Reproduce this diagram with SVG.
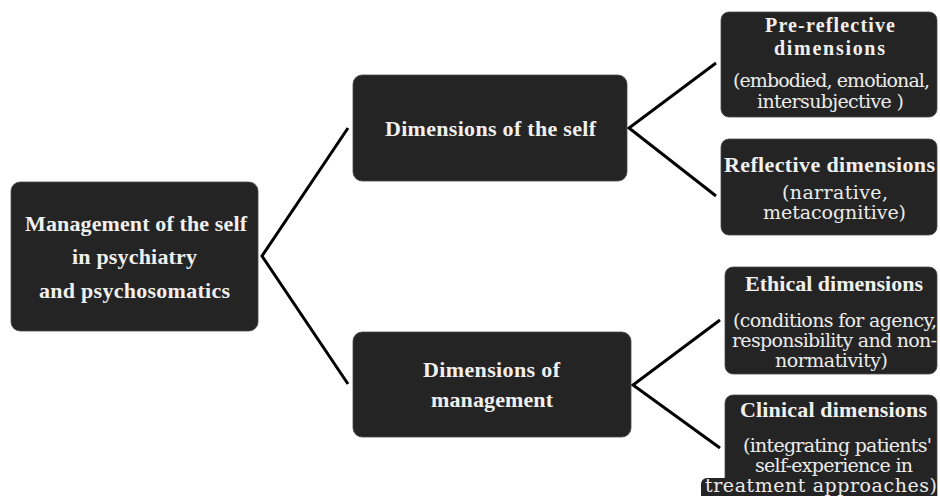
<svg xmlns="http://www.w3.org/2000/svg" width="940" height="496" viewBox="0 0 940 496">
<style>
.box{fill:#242424;stroke:#4a4a4a;stroke-width:0.8}
.b{font-family:"Liberation Serif","Times New Roman",serif;font-weight:bold;font-size:22px;fill:#f0f0f0;text-anchor:middle}
.bs{font-size:20px}
.r{font-family:"DejaVu Serif","Liberation Serif",serif;font-size:19px;fill:#ececec;text-anchor:middle}
.c{fill:none;stroke:#000;stroke-width:3;stroke-linejoin:miter}
</style>
<rect width="940" height="496" fill="#fff"/>
<g id="connectors">
<polyline class="c" points="348,128 262,256 348,384"/>
<polyline class="c" points="716,63 629,128 716,196"/>
<polyline class="c" points="720,320 633,385 720,448"/>
</g>
<g id="root">
<rect class="box" x="11" y="182" width="247" height="149" rx="9"/>
<text class="b" x="136" y="231" textLength="222" lengthAdjust="spacing">Management of the self</text>
<text class="b" x="134.5" y="264" textLength="125" lengthAdjust="spacing">in psychiatry</text>
<text class="b" x="134.5" y="298" textLength="191" lengthAdjust="spacing">and psychosomatics</text>
</g>
<g id="dim-self">
<rect class="box" x="353" y="75" width="274" height="106" rx="9"/>
<text class="b" x="490.5" y="136" textLength="211" lengthAdjust="spacing">Dimensions of the self</text>
</g>
<g id="dim-management">
<rect class="box" x="353" y="332" width="278" height="105" rx="9"/>
<text class="b" x="491.5" y="377" textLength="137" lengthAdjust="spacing">Dimensions of</text>
<text class="b" x="492" y="407" textLength="122" lengthAdjust="spacing">management</text>
</g>
<g id="pre-reflective">
<rect class="box" x="721" y="12" width="216" height="105" rx="8"/>
<text class="b bs" x="830" y="32" textLength="130" lengthAdjust="spacing">Pre-reflective</text>
<text class="b bs" x="829.5" y="55" textLength="111" lengthAdjust="spacing">dimensions</text>
<text class="r" x="831.5" y="87" textLength="197" lengthAdjust="spacing">(embodied, emotional,</text>
<text class="r" x="830.5" y="108" textLength="147" lengthAdjust="spacing">intersubjective )</text>
</g>
<g id="reflective">
<rect class="box" x="721" y="139" width="216" height="96" rx="8"/>
<text class="b" x="829.5" y="172" textLength="211" lengthAdjust="spacing">Reflective dimensions</text>
<text class="r" x="835" y="199" textLength="106" lengthAdjust="spacing">(narrative,</text>
<text class="r" x="834.5" y="219" textLength="143" lengthAdjust="spacing">metacognitive)</text>
</g>
<g id="ethical">
<rect class="box" x="725" y="267" width="212" height="107" rx="8"/>
<text class="b" x="834" y="291" textLength="178" lengthAdjust="spacing">Ethical dimensions</text>
<text class="r" x="835" y="327" textLength="204" lengthAdjust="spacing">(conditions for agency,</text>
<text class="r" x="834.5" y="347" textLength="205" lengthAdjust="spacing">responsibility and non-</text>
<text class="r" x="831.5" y="367" textLength="113" lengthAdjust="spacing">normativity)</text>
</g>
<g id="clinical">
<rect class="box" x="725" y="395" width="212" height="120" rx="8"/>
<rect x="701" y="478" width="236" height="30" rx="6" fill="#242424"/>
<text class="b" x="833.5" y="417" textLength="187" lengthAdjust="spacing">Clinical dimensions</text>
<text class="r" x="837.5" y="452" textLength="189" lengthAdjust="spacing">(integrating patients'</text>
<text class="r" x="834" y="472" textLength="158" lengthAdjust="spacing">self-experience in</text>
<text class="r" x="821" y="492" textLength="232" lengthAdjust="spacing">treatment approaches)</text>
</g>
</svg>
